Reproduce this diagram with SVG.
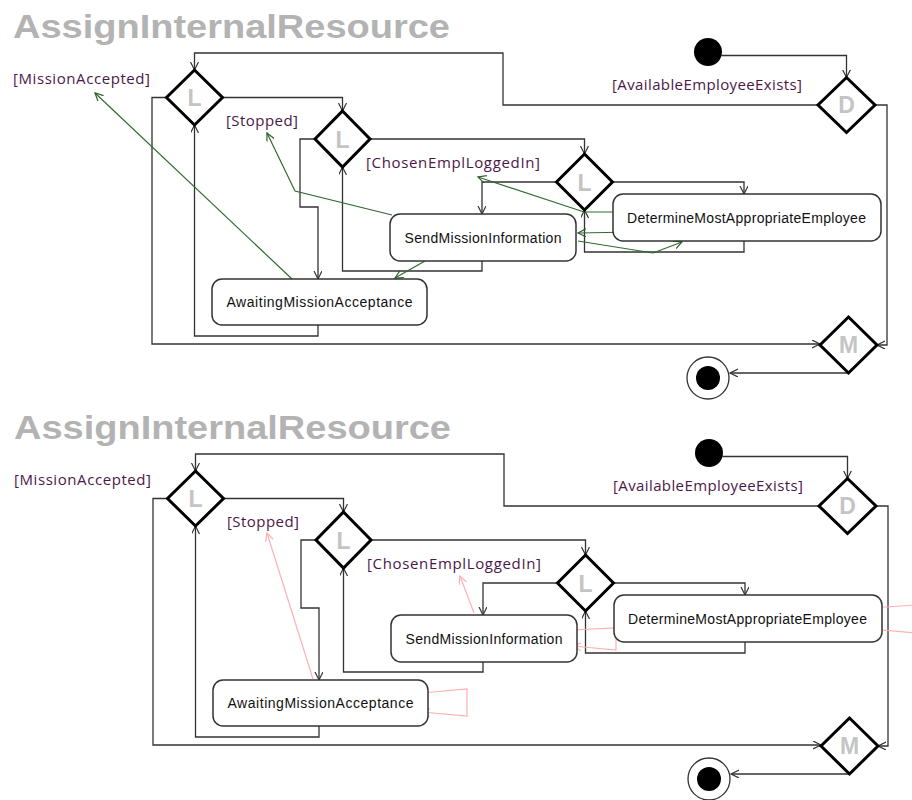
<svg xmlns="http://www.w3.org/2000/svg" width="912" height="800" viewBox="0 0 912 800">
<defs>
<marker id="arr" markerUnits="userSpaceOnUse" markerWidth="10" markerHeight="10" refX="8" refY="4" orient="auto"><path d="M0,0 L8,4 L0,8" fill="none" stroke="#333" stroke-width="1.2"/></marker>
<marker id="arrG" markerUnits="userSpaceOnUse" markerWidth="10" markerHeight="10" refX="8" refY="4" orient="auto"><path d="M0,0 L8,4 L0,8" fill="none" stroke="#2f5f2f" stroke-width="1.2"/></marker>
<marker id="arrP" markerUnits="userSpaceOnUse" markerWidth="10" markerHeight="10" refX="8" refY="4" orient="auto"><path d="M0,0 L8,4 L0,8" fill="none" stroke="#ffb0b0" stroke-width="1.2"/></marker>
</defs>
<style>
.title{font-family:"Liberation Sans",Arial,sans-serif;font-weight:bold;font-size:33px;fill:#b3b3b3}
.guard{font-family:"Open Sans","Liberation Sans",sans-serif;font-size:15px;fill:#4a1848}
.act rect{fill:#fff;stroke:#333;stroke-width:1.5}
.act text{font-family:"Liberation Sans",Arial,sans-serif;font-size:14px;fill:#111;text-anchor:middle}
.dec polygon{fill:#fff;stroke:#000;stroke-width:3}
.dec text{font-family:"Liberation Sans",Arial,sans-serif;font-weight:bold;font-size:23px;fill:#c4c4c4;text-anchor:middle}
.edge{fill:none;stroke:#333;stroke-width:1.3;marker-end:url(#arr)}
.note{fill:none;stroke:#2f6b2f;stroke-width:1.2;marker-end:url(#arrG)}
.noteP{fill:none;stroke:#ffb0b0;stroke-width:1.2;marker-end:url(#arrP)}
</style>
<rect width="912" height="800" fill="#fff"/>

<g id="diagram-top">
<text class="title" x="13" y="38" textLength="437" lengthAdjust="spacingAndGlyphs">AssignInternalResource</text>
<g id="connectors-top">
<polyline class="edge" points="818,105 503,105 503,53 194.5,53 194.5,70"/>
<polyline class="edge" points="721.5,55.5 846.5,55.5 846.5,77.5"/>
<polyline class="edge" points="875,105 887,105 887,345 877,345"/>
<polyline class="edge" points="166.5,97.5 152,97.5 152,344 820,344"/>
<polyline class="edge" points="222.5,97.5 342.5,97.5 342.5,111"/>
<polyline class="edge" points="315,139 300,139 300,207 318,207 318,279"/>
<polyline class="edge" points="370,139 584.5,139 584.5,154"/>
<polyline class="edge" points="556.5,182 482,182 482,214"/>
<polyline class="edge" points="612.5,182 744,182 744,194"/>
<polyline class="edge" points="744,241 744,252 584.5,252 584.5,210"/>
<polyline class="edge" points="482,261 482,271 342.5,271 342.5,167"/>
<polyline class="edge" points="318,325 318,336 194.5,336 194.5,125"/>
<polyline class="edge" points="848.5,373 730,373"/>
<polyline class="note" points="292,279 95,93"/>
<polyline class="note" points="392,215 295,191 267,133"/>
<polyline class="note" points="425,261 395,278"/>
<polyline class="note" points="613,212 584,212 478,177"/>
<polyline class="note" points="634,232 578,233"/>
<polyline class="note" points="578,241 653,253 682,242"/>
</g>
<text class="guard" x="13" y="84" textLength="137">[MissionAccepted]</text>
<text class="guard" x="226" y="126" textLength="72">[Stopped]</text>
<text class="guard" x="366" y="168" textLength="174">[ChosenEmplLoggedIn]</text>
<text class="guard" x="612" y="90" textLength="190">[AvailableEmployeeExists]</text>
<g id="initial-top"><circle cx="708" cy="52" r="14" fill="#000"/></g>
<g id="final-top"><circle cx="708" cy="378" r="21" fill="#fff" stroke="#333" stroke-width="1.3"/><circle cx="708" cy="378" r="12" fill="#000"/></g>
<g id="decision-D-top" class="dec"><polygon points="846.5,77.5 875,105 846.5,132.5 818,105"/><text x="846.5" y="113">D</text></g>
<g id="merge-M-top" class="dec"><polygon points="848.5,317 877,345 848.5,373 820,345"/><text x="848.5" y="353">M</text></g>
<g id="loop-L1-top" class="dec"><polygon points="194.5,70 222.5,97.5 194.5,125 166.5,97.5"/><text x="194.5" y="106">L</text></g>
<g id="loop-L2-top" class="dec"><polygon points="342.5,111 370,139 342.5,167 315,139"/><text x="342.5" y="147.5">L</text></g>
<g id="loop-L3-top" class="dec"><polygon points="584.5,154 612.5,182 584.5,210 556.5,182"/><text x="584.5" y="190.5">L</text></g>
<g id="awaiting-top" class="act"><rect x="212" y="279" width="215" height="46" rx="10"/><text x="319.5" y="307" textLength="186">AwaitingMissionAcceptance</text></g>
<g id="send-top" class="act"><rect x="390" y="214" width="186" height="47" rx="10"/><text x="483" y="242.5" textLength="157">SendMissionInformation</text></g>
<g id="determine-top" class="act"><rect x="613" y="194" width="268" height="47" rx="10"/><text x="746.5" y="222.5" textLength="239">DetermineMostAppropriateEmployee</text></g>
</g>

<g id="diagram-bottom" transform="translate(1,401)">
<text class="title" x="13" y="38" textLength="437" lengthAdjust="spacingAndGlyphs">AssignInternalResource</text>
<g id="connectors-bottom">
<polyline class="edge" points="818,105 503,105 503,53 194.5,53 194.5,70"/>
<polyline class="edge" points="721.5,55.5 846.5,55.5 846.5,77.5"/>
<polyline class="edge" points="875,105 887,105 887,345 877,345"/>
<polyline class="edge" points="166.5,97.5 152,97.5 152,344 820,344"/>
<polyline class="edge" points="222.5,97.5 342.5,97.5 342.5,111"/>
<polyline class="edge" points="315,139 300,139 300,207 318,207 318,279"/>
<polyline class="edge" points="370,139 584.5,139 584.5,154"/>
<polyline class="edge" points="556.5,182 482,182 482,214"/>
<polyline class="edge" points="612.5,182 744,182 744,194"/>
<polyline class="edge" points="744,241 744,252 584.5,252 584.5,210"/>
<polyline class="edge" points="482,261 482,271 342.5,271 342.5,167"/>
<polyline class="edge" points="318,325 318,336 194.5,336 194.5,125"/>
<polyline class="edge" points="848.5,373 730,373"/>
<polyline class="noteP" points="312,278 266,132"/>
<polyline class="noteP" points="421,292 466,288 466,315 421,311"/>
<polyline class="noteP" points="473,212 459,175"/>
<polyline class="noteP" points="571,229 615,227 615,249 572,245"/>
<polyline class="noteP" points="869,207 915,204" style="marker-end:none"/>
<polyline class="noteP" points="915,232 869,228"/>
</g>
<text class="guard" x="13" y="84" textLength="137">[MissionAccepted]</text>
<text class="guard" x="226" y="126" textLength="72">[Stopped]</text>
<text class="guard" x="366" y="168" textLength="174">[ChosenEmplLoggedIn]</text>
<text class="guard" x="612" y="90" textLength="190">[AvailableEmployeeExists]</text>
<g id="initial-bottom"><circle cx="708" cy="52" r="14" fill="#000"/></g>
<g id="final-bottom"><circle cx="708" cy="378" r="21" fill="#fff" stroke="#333" stroke-width="1.3"/><circle cx="708" cy="378" r="12" fill="#000"/></g>
<g id="decision-D-bottom" class="dec"><polygon points="846.5,77.5 875,105 846.5,132.5 818,105"/><text x="846.5" y="113">D</text></g>
<g id="merge-M-bottom" class="dec"><polygon points="848.5,317 877,345 848.5,373 820,345"/><text x="848.5" y="353">M</text></g>
<g id="loop-L1-bottom" class="dec"><polygon points="194.5,70 222.5,97.5 194.5,125 166.5,97.5"/><text x="194.5" y="106">L</text></g>
<g id="loop-L2-bottom" class="dec"><polygon points="342.5,111 370,139 342.5,167 315,139"/><text x="342.5" y="147.5">L</text></g>
<g id="loop-L3-bottom" class="dec"><polygon points="584.5,154 612.5,182 584.5,210 556.5,182"/><text x="584.5" y="190.5">L</text></g>
<g id="awaiting-bottom" class="act"><rect x="212" y="279" width="215" height="46" rx="10"/><text x="319.5" y="307" textLength="186">AwaitingMissionAcceptance</text></g>
<g id="send-bottom" class="act"><rect x="390" y="214" width="186" height="47" rx="10"/><text x="483" y="242.5" textLength="157">SendMissionInformation</text></g>
<g id="determine-bottom" class="act"><rect x="613" y="194" width="268" height="47" rx="10"/><text x="746.5" y="222.5" textLength="239">DetermineMostAppropriateEmployee</text></g>
</g>
</svg>
